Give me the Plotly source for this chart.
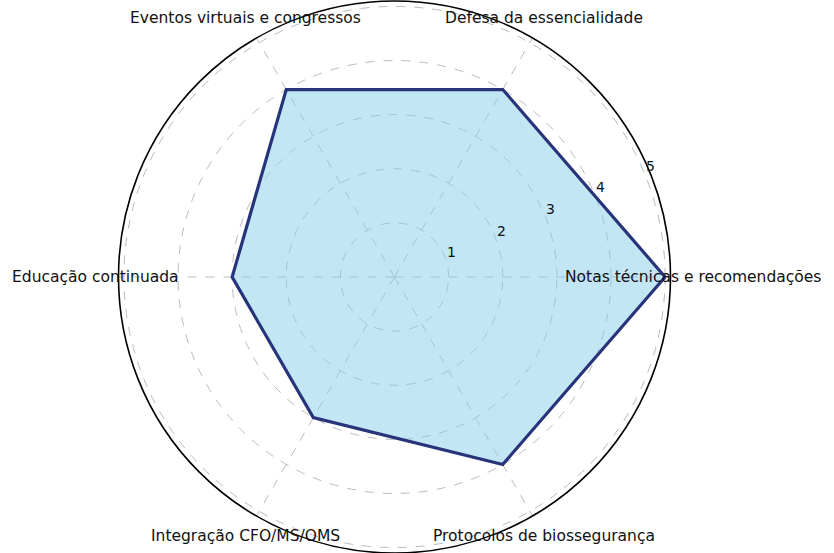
import math
import plotly.graph_objects as go

categories = ["Notas técnicas e recomendações", "Defesa da essencialidade",
              "Eventos virtuais e congressos", "Educação continuada",
              "Integração CFO/MS/OMS", "Protocolos de biossegurança"]
values = [5, 4, 4, 3, 3, 4]
radial_ticks = [1, 2, 3, 4, 5]
radial_max = 5.1
label_r = 5.52         # radius (data units) of category labels
tick_label_angle = 23.5
tick_label_pad = 0.15  # data units beyond tick value

W, H = 834, 553
cx, cy, R = 394.5, 277.0, 276.0
scale = R / radial_max  # px per data unit

theta = [i * 360.0 / len(categories) for i in range(len(categories))]

fig = go.Figure()
fig.add_trace(go.Scatterpolar(
    r=values + values[:1], theta=theta + theta[:1], mode="lines",
    fill="toself", fillcolor="rgba(135,206,235,0.5)",
    line=dict(color="#27347a", width=3.2), hoverinfo="skip"))

annotations = []
for cat, th in zip(categories, theta):
    a = math.radians(th)
    annotations.append(dict(
        x=(cx + label_r * scale * math.cos(a)) / W,
        y=(H - cy + label_r * scale * math.sin(a)) / H,
        xref="paper", yref="paper", text=cat, showarrow=False,
        xanchor="center", yanchor="middle",
        font=dict(family="DejaVu Sans", size=15.5, color="#111111")))
a = math.radians(tick_label_angle)
for t in radial_ticks:
    rr = (t + tick_label_pad) * scale
    annotations.append(dict(
        x=(cx + rr * math.cos(a)) / W, y=(H - cy + rr * math.sin(a)) / H,
        xref="paper", yref="paper", text=str(t), showarrow=False,
        xanchor="center", yanchor="middle",
        font=dict(family="DejaVu Sans", size=14, color="#111111")))

fig.update_layout(
    width=W, height=H, showlegend=False,
    margin=dict(l=0, r=0, t=0, b=0),
    paper_bgcolor="white",
    annotations=annotations,
    polar=dict(
        domain=dict(x=[(cx - R) / W, (cx + R) / W], y=[(H - cy - R) / H, (H - cy + R) / H]),
        bgcolor="white",
        angularaxis=dict(direction="counterclockwise", rotation=0, thetaunit="degrees",
                         tickmode="array", tickvals=theta, showticklabels=False, ticks="",
                         showline=True, linecolor="black", linewidth=1.6,
                         gridcolor="#bbbbbb", griddash="dash", gridwidth=1),
        radialaxis=dict(range=[0, radial_max], tickmode="array", tickvals=radial_ticks,
                        showticklabels=False, showline=False, ticks="",
                        gridcolor="#bbbbbb", griddash="dash", gridwidth=1),
    ),
)
fig.write_html("out.html", config={"displayModeBar": False},
               post_script="document.body.style.margin='0';")
